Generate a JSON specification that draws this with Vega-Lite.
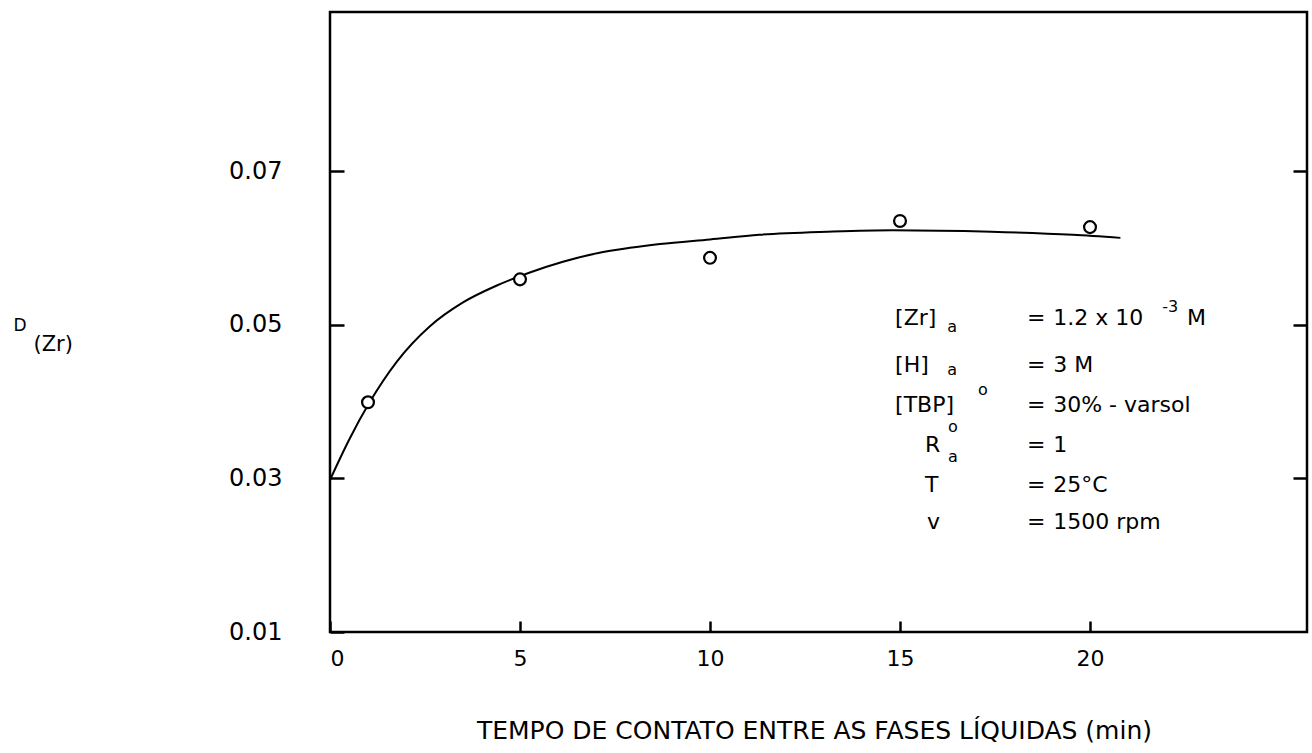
{
  "$schema": "https://vega.github.io/schema/vega-lite/v6.json",
  "width": 977,
  "height": 620,
  "autosize": {"type": "none"},
  "padding": {"left": 330, "top": 12, "right": 5, "bottom": 121},
  "background": "white",
  "config": {
    "view": {"stroke": "black", "strokeWidth": 2.5},
    "font": "DejaVu Sans",
    "axis": {
      "grid": false,
      "domain": false,
      "tickColor": "black",
      "tickWidth": 2.5,
      "labelColor": "black",
      "titleColor": "black",
      "labelFont": "DejaVu Sans",
      "titleFont": "DejaVu Sans",
      "titleFontWeight": "normal"
    }
  },
  "datasets": {
    "curve": [
      {"t": 0, "D": 0.0298},
      {"t": 0.5, "D": 0.0350},
      {"t": 1.03, "D": 0.0398},
      {"t": 1.76, "D": 0.0452},
      {"t": 2.63, "D": 0.0498},
      {"t": 3.5, "D": 0.0529},
      {"t": 4.39, "D": 0.0551},
      {"t": 5.26, "D": 0.0568},
      {"t": 6.13, "D": 0.0582},
      {"t": 7.03, "D": 0.0593},
      {"t": 7.89, "D": 0.0600},
      {"t": 8.68, "D": 0.0605},
      {"t": 10, "D": 0.0611},
      {"t": 11.3, "D": 0.0617},
      {"t": 13.1, "D": 0.0621},
      {"t": 14.8, "D": 0.0623},
      {"t": 17.4, "D": 0.0621},
      {"t": 19.55, "D": 0.0617},
      {"t": 20.8, "D": 0.0613}
    ],
    "points": [
      {"t": 1, "D": 0.0399},
      {"t": 5, "D": 0.0559},
      {"t": 10, "D": 0.0587},
      {"t": 15, "D": 0.0635},
      {"t": 20, "D": 0.0627}
    ],
    "notes": [
      {"t": 14.87, "D": 0.04996, "txt": "[Zr]"},
      {"t": 18.34, "D": 0.04996, "txt": "="},
      {"t": 19.03, "D": 0.04996, "txt": "1.2 x 10"},
      {"t": 22.55, "D": 0.04996, "txt": "M"},
      {"t": 14.87, "D": 0.04384, "txt": "[H]"},
      {"t": 18.34, "D": 0.04384, "txt": "="},
      {"t": 19.03, "D": 0.04384, "txt": "3 M"},
      {"t": 14.87, "D": 0.03863, "txt": "[TBP]"},
      {"t": 18.34, "D": 0.03863, "txt": "="},
      {"t": 19.03, "D": 0.03863, "txt": "30% - varsol"},
      {"t": 15.66, "D": 0.03343, "txt": "R"},
      {"t": 18.34, "D": 0.03343, "txt": "="},
      {"t": 19.03, "D": 0.03343, "txt": "1"},
      {"t": 15.66, "D": 0.02822, "txt": "T"},
      {"t": 18.34, "D": 0.02822, "txt": "="},
      {"t": 19.03, "D": 0.02822, "txt": "25°C"},
      {"t": 15.71, "D": 0.0234, "txt": "v"},
      {"t": 18.34, "D": 0.0234, "txt": "="},
      {"t": 19.03, "D": 0.0234, "txt": "1500 rpm"}
    ],
    "scripts": [
      {"t": 16.24, "D": 0.04904, "txt": "a"},
      {"t": 21.9, "D": 0.05165, "txt": "-3"},
      {"t": 16.24, "D": 0.04345, "txt": "a"},
      {"t": 17.05, "D": 0.04084, "txt": "o"},
      {"t": 16.26, "D": 0.03603, "txt": "o"},
      {"t": 16.26, "D": 0.03212, "txt": "a"}
    ]
  },
  "resolve": {"scale": {"x": "shared", "y": "shared"}, "axis": {"y": "independent"}},
  "layer": [
    {
      "data": {"name": "curve"},
      "mark": {"type": "line", "interpolate": "monotone", "color": "black", "strokeWidth": 2},
      "encoding": {
        "x": {
          "field": "t",
          "type": "quantitative",
          "scale": {"domain": [0, 25.71], "nice": false, "zero": false},
          "axis": {
            "orient": "bottom",
            "values": [0, 5, 10, 15, 20],
            "tickSize": -11,
            "labelPadding": 27,
            "labelFontSize": 22,
            "labelFlush": true,
            "title": "TEMPO DE CONTATO ENTRE AS FASES LÍQUIDAS (min)",
            "titleFontSize": 25,
            "titleX": 484,
            "titleY": 106,
            "titleAlign": "center",
            "titleBaseline": "alphabetic"
          }
        },
        "y": {
          "field": "D",
          "type": "quantitative",
          "scale": {"domain": [0.01, 0.0907], "nice": false, "zero": false},
          "axis": {
            "orient": "left",
            "values": [0.01, 0.03, 0.05, 0.07],
            "format": ".2f",
            "tickSize": -14,
            "labelPadding": 62,
            "labelFontSize": 24,
            "title": "D",
            "titleAngle": 0,
            "titleFontSize": 17,
            "titleX": -317,
            "titleY": 318,
            "titleAlign": "left",
            "titleBaseline": "alphabetic"
          }
        }
      }
    },
    {
      "data": {"name": "points"},
      "mark": {"type": "point", "shape": "circle", "filled": true, "fill": "white", "stroke": "black", "strokeWidth": 2.2, "size": 140, "opacity": 1},
      "encoding": {
        "x": {"field": "t", "type": "quantitative"},
        "y": {
          "field": "D",
          "type": "quantitative",
          "axis": {
            "orient": "right",
            "values": [0.03, 0.05, 0.07],
            "tickSize": -14,
            "labels": false,
            "title": null
          }
        }
      }
    },
    {
      "data": {"name": "notes"},
      "mark": {"type": "text", "align": "left", "baseline": "alphabetic", "fontSize": 22, "color": "black", "font": "DejaVu Sans"},
      "encoding": {
        "x": {"field": "t", "type": "quantitative"},
        "y": {
          "field": "D",
          "type": "quantitative",
          "axis": {
            "orient": "left",
            "labels": false,
            "ticks": false,
            "title": "(Zr)",
            "titleAngle": 0,
            "titleFontSize": 21,
            "titleX": -297,
            "titleY": 338,
            "titleAlign": "left",
            "titleBaseline": "alphabetic"
          }
        },
        "text": {"field": "txt"}
      }
    },
    {
      "data": {"name": "scripts"},
      "mark": {"type": "text", "align": "left", "baseline": "alphabetic", "fontSize": 16, "color": "black", "font": "DejaVu Sans"},
      "encoding": {
        "x": {"field": "t", "type": "quantitative"},
        "y": {"field": "D", "type": "quantitative", "axis": null},
        "text": {"field": "txt"}
      }
    }
  ]
}
